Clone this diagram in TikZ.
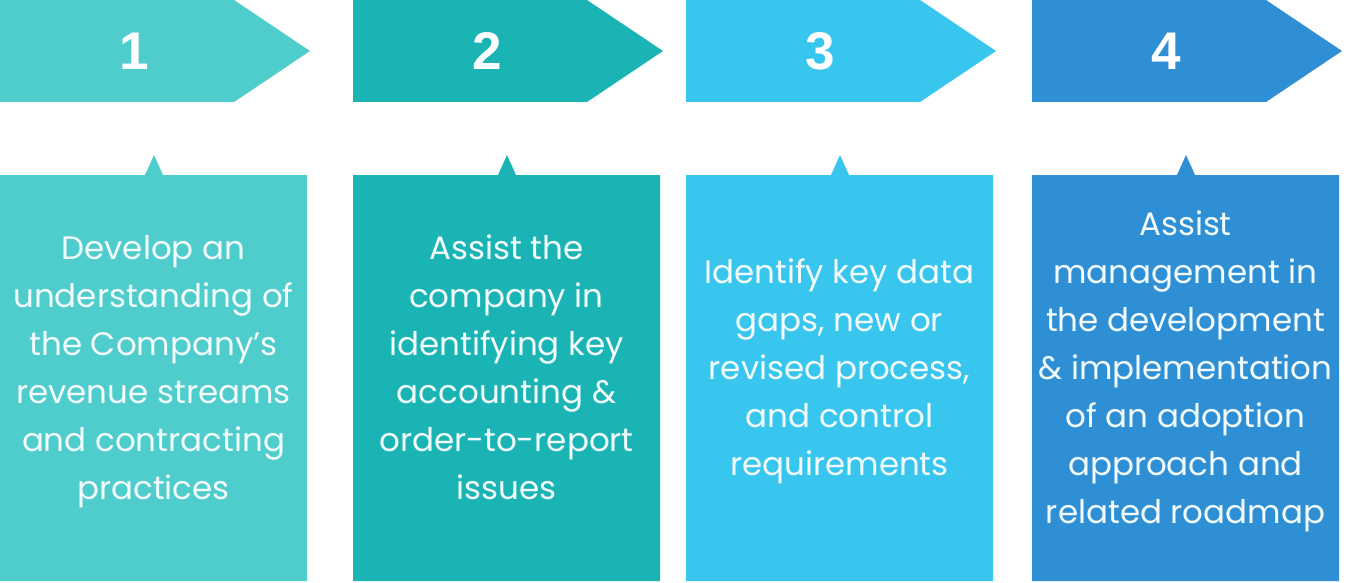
\documentclass[tikz,border=0pt]{standalone}
\usepackage{fontspec}
\setmainfont{Poppins}
\newfontfamily\numfont{Liberation Sans}
\definecolor{cA}{RGB}{79,204,204}
\definecolor{cB}{RGB}{27,180,180}
\definecolor{cC}{RGB}{56,198,238}
\definecolor{cD}{RGB}{46,143,212}
\newcommand\lnstrut{\rule[-14pt]{0pt}{48pt}}
\tikzset{
  numtxt/.style={text=white,font=\numfont\bfseries\fontsize{53}{60}\selectfont,inner sep=0pt},
  bodytxt/.style={text=white!95!cyan,font=\fontsize{32.5}{48}\selectfont,align=center,inner sep=0pt},
}
\begin{document}
\begin{tikzpicture}[x=1pt,y=-1pt]
\useasboundingbox (0,0) rectangle (1351,583);
\fill[white] (0,0) rectangle (1351,583);
\foreach \i/\x/\c in {1/0/cA,2/353/cB,3/686/cC,4/1032/cD}{
  \fill[\c] (\x,0) -- ({\x+234},0) -- ({\x+310},51) -- ({\x+234},102) -- (\x,102) -- cycle;
  \fill[\c] (\x,175) -- ({\x+145},175) -- ({\x+154},155) -- ({\x+163},175) -- ({\x+307},175) -- ({\x+307},581) -- (\x,581) -- cycle;
  \node[numtxt] (n\i) at ({\x+134},51) {\i};
}
\node[bodytxt] (t1) at (153.5,369) {\lnstrut Develop an\\\lnstrut understanding of\\\lnstrut the Company’s\\\lnstrut revenue streams\\\lnstrut and contracting\\\lnstrut practices};
\node[bodytxt] (t2) at (506.5,369) {\lnstrut Assist the\\\lnstrut company in\\\lnstrut identifying key\\\lnstrut accounting \&\\\lnstrut order-to-report\\\lnstrut issues};
\node[bodytxt] (t3) at (839.5,369) {\lnstrut Identify key data\\\lnstrut gaps, new or\\\lnstrut revised process,\\\lnstrut and control\\\lnstrut requirements};
\node[bodytxt] (t4) at (1185.5,369) {\lnstrut Assist\\\lnstrut management in\\\lnstrut the development\\\lnstrut \& implementation\\\lnstrut of an adoption\\\lnstrut approach and\\\lnstrut related roadmap};
\end{tikzpicture}
\end{document}
